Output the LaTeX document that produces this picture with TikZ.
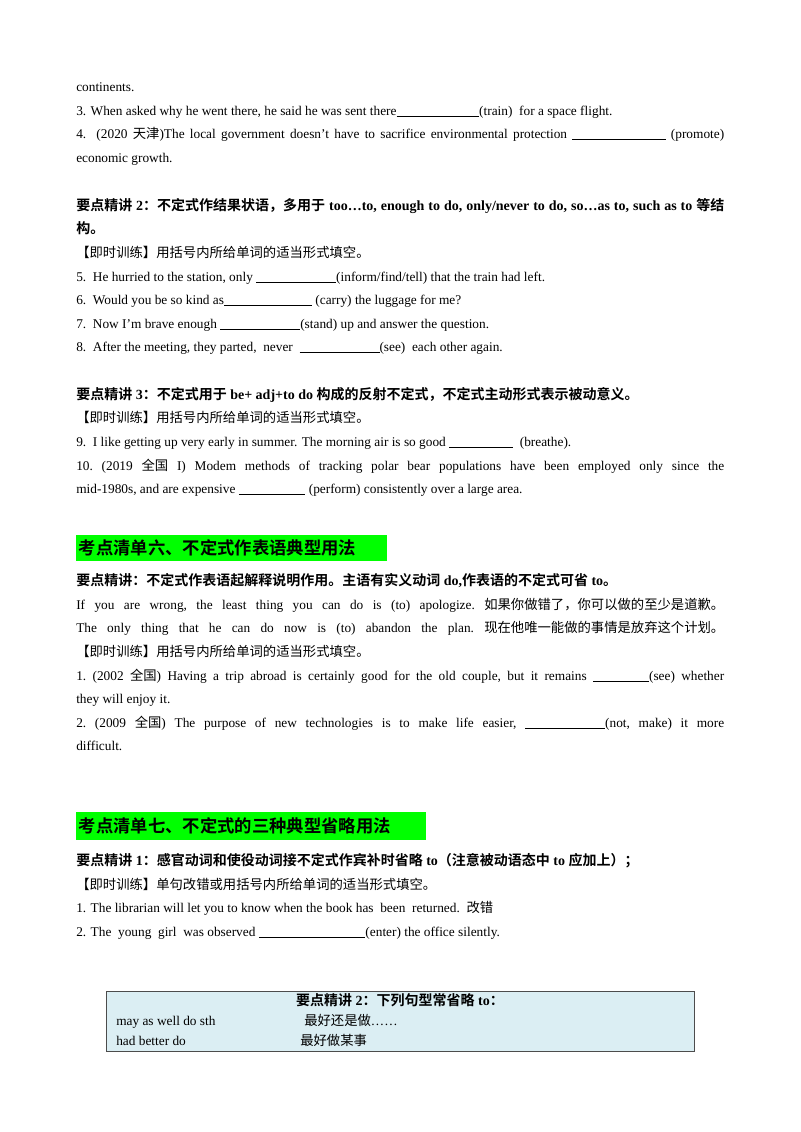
\documentclass[tikz,border=0pt]{standalone}
\usepackage{fontspec}
\setmainfont{Liberation Serif}
\newfontfamily\cjk[BoldFont={Noto Sans CJK SC Bold}]{Noto Sans CJK SC}
\newcommand\zh[1]{{\cjk #1}}
\newcommand\zb[1]{{\cjk\bfseries #1}}
\newcommand\blank[1]{\rule[-1.5pt]{#1}{0.5pt}}
\newcommand\full[1]{\hbox to 486pt{#1}}
\definecolor{hl}{HTML}{00FF00}
\definecolor{tb}{HTML}{DBEEF3}
\begin{document}
\begin{tikzpicture}[x=0.75pt,y=-0.75pt,
  ln/.style={anchor=base west,inner sep=0,font=\fontsize{10pt}{12pt}\selectfont},
  hd/.style={anchor=base west,inner sep=0,font=\fontsize{10.5pt}{12pt}\selectfont\bfseries},
  big/.style={anchor=west,inner sep=0,font=\fontsize{13pt}{15pt}\selectfont}]
\useasboundingbox (0,0) rectangle (800,1132);
\node[ln] (a1) at (76,91) {continents.};
\node[ln] (a2) at (76,115) {3. When asked why he went there, he said he was sent there\rule[-1.5pt]{62pt}{1pt}(train)\ \ for a space flight.};
\node[ln] (a3) at (76,138) {\full{4. (2020 \zh{天津})The local government doesn't have to sacrifice environmental protection \blank{70pt} (promote)}};
\node[ln] (a4) at (76,162) {economic growth.};
\node[hd] (b1) at (76,210) {\full{\zb{要点精讲} 2\zb{：不定式作结果状语，多用于} too…to, enough to do, only/never to do, so…as to, such as to \zb{等结}}};
\node[hd] (b2) at (76,233) {\zb{构。}};
\node[ln] (b3) at (76,257) {\zh{【即时训练】用括号内所给单词的适当形式填空。}};
\node[ln] (b4) at (76,281) {5.\ \ He hurried to the station, only \blank{60pt}(inform/find/tell) that the train had left.};
\node[ln] (b5) at (76,304) {6.\ \ Would you be so kind as\blank{66pt} (carry) the luggage for me?};
\node[ln] (b6) at (76,328) {7.\ \ Now I'm brave enough \blank{60pt}(stand) up and answer the question.};
\node[ln] (b7) at (76,351) {8.\ \ After the meeting, they parted,\ \ never\ \ \blank{60pt}(see)\ \ each other again.};
\node[hd] (c1) at (76,399) {\zb{要点精讲} 3\zb{：不定式用于} be+ adj+to do \zb{构成的反射不定式，不定式主动形式表示被动意义。}};
\node[ln] (c2) at (76,422) {\zh{【即时训练】用括号内所给单词的适当形式填空。}};
\node[ln] (c3) at (76,446) {9.\ \ I like getting up very early in summer. The morning air is so good \blank{48pt}\ \ (breathe).};
\node[ln] (c4) at (76,470) {\full{10.\hfil (2019\hfil \zh{全国}\hfil I)\hfil Modem\hfil methods\hfil of\hfil tracking\hfil polar\hfil bear\hfil populations\hfil have\hfil been\hfil employed\hfil only\hfil since\hfil the}};
\node[ln] (c5) at (76,493) {mid-1980s, and are expensive \blank{50pt} (perform) consistently over a large area.};
\node[big,fill=hl,minimum height=26*0.75pt,inner xsep=2pt,text width=229pt] (h6) at (76,548) {\zb{考点清单六、不定式作表语典型用法}};
\node[hd] (d1) at (76,585) {\zb{要点精讲：不定式作表语起解释说明作用。主语有实义动词} do,\zb{作表语的不定式可省} to\zb{。}};
\node[ln] (d2) at (76,609) {\full{If\hfil you\hfil are\hfil wrong,\hfil the\hfil least\hfil thing\hfil you\hfil can\hfil do\hfil is\hfil (to)\hfil apologize.\hfil \zh{如果你做错了，你可以做的至少是道歉。}}};
\node[ln] (d3) at (76,632) {\full{The\hfil only\hfil thing\hfil that\hfil he\hfil can\hfil do\hfil now\hfil is\hfil (to)\hfil abandon\hfil the\hfil plan.\hfil \zh{现在他唯一能做的事情是放弃这个计划。}}};
\node[ln] (d4) at (76,656) {\zh{【即时训练】用括号内所给单词的适当形式填空。}};
\node[ln] (d5) at (76,680) {\full{1.\hfil (2002\hfil \zh{全国})\hfil Having\hfil a\hfil trip\hfil abroad\hfil is\hfil certainly\hfil good\hfil for\hfil the\hfil old\hfil couple,\hfil but\hfil it\hfil remains\hfil \blank{42pt}(see)\hfil whether}};
\node[ln] (d6) at (76,703) {they will enjoy it.};
\node[ln] (d7) at (76,727) {\full{2.\hfil (2009\hfil \zh{全国})\hfil The\hfil purpose\hfil of\hfil new\hfil technologies\hfil is\hfil to\hfil make\hfil life\hfil easier,\hfil \blank{60pt}(not,\hfil make)\hfil it\hfil more}};
\node[ln] (d8) at (76,750) {difficult.};
\node[big,fill=hl,minimum height=28*0.75pt,inner xsep=2pt,text width=258pt] (h7) at (76,826) {\zb{考点清单七、不定式的三种典型省略用法}};
\node[hd] (e1) at (76,865) {\zb{要点精讲} 1\zb{：感官动词和使役动词接不定式作宾补时省略} to\zb{（注意被动语态中} to \zb{应加上）；}};
\node[ln] (e2) at (76,889) {\zh{【即时训练】单句改错或用括号内所给单词的适当形式填空。}};
\node[ln] (e3) at (76,912) {1. The librarian will let you to know when the book has\ \ been\ \ returned.\ \ \zh{改错}};
\node[ln] (e4) at (76,936) {2. The\ \ young\ \ girl\ \ was observed \blank{80pt}(enter) the office silently.};
\node[draw=black!70,line width=1pt,fill=tb,minimum width=588*0.75pt,minimum height=60*0.75pt,anchor=north west,inner sep=0] (tbl) at (106,991) {};
\node[hd,anchor=base] (t0) at (400,1005) {\zb{要点精讲} 2\zb{：下列句型常省略} to\zb{：}};
\node[ln] (t1) at (116,1025) {may as well do sth};
\node[ln] (t2) at (304,1025) {\zh{最好还是做}……};
\node[ln] (t3) at (116,1045) {had better do};
\node[ln] (t4) at (300,1045) {\zh{最好做某事}};
\end{tikzpicture}
\end{document}
